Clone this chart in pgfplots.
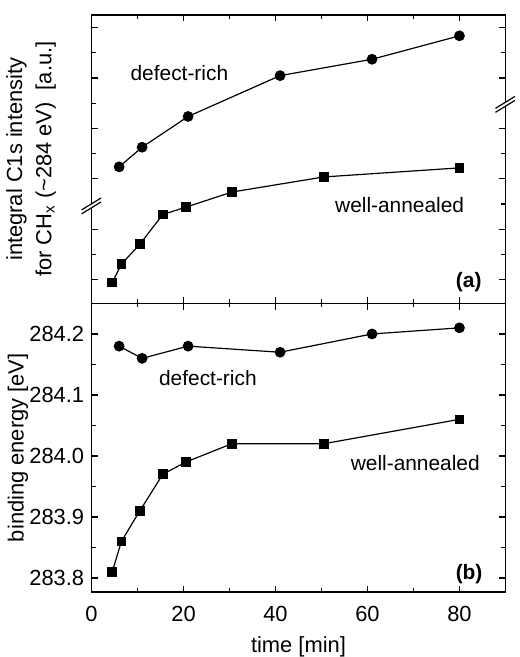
\documentclass[border=0pt]{standalone}
\usepackage{fontspec}
\setmainfont{Liberation Sans}
\usepackage{pgfplots}
\usepackage{pgfplotstable}
\pgfplotsset{compat=1.18}

% top panel (a): arbitrary intensity units
\pgfplotstableread{
t    I
6    5.47
11   6.25
21   7.47
41   9.09
61   9.74
80   10.67
}\Adefect
\pgfplotstableread{
t    I
4.5  0.88
6.5  1.61
10.5 2.40
15.5 3.58
20.5 3.87
30.5 4.47
50.5 5.07
80   5.43
}\Awell
% bottom panel (b): binding energy
\pgfplotstableread{
t    E
6    284.18
11   284.16
21   284.18
41   284.17
61   284.20
80   284.21
}\Bdefect
\pgfplotstableread{
t    E
4.5  283.81
6.5  283.86
10.5 283.91
15.5 283.97
20.5 283.99
30.5 284.02
50.5 284.02
80   284.06
}\Bwell

\begin{document}
\fontsize{10.5}{12.6}\selectfont
\begin{tikzpicture}
\pgfplotsset{
 common/.style={
  scale only axis, width=208pt, height=145pt,
  xmin=0, xmax=90,
  tick align=inside,
  axis line style={line width=0.75pt, -},
  every tick/.style={black, line width=0.6pt},
  major tick length=3.2pt, minor tick length=2pt,
  clip=false,
  /pgf/number format/assume math mode=true,
  tick label style={font=\fontsize{11}{12}\selectfont},
  label style={font=\fontsize{11}{13.2}\selectfont, inner sep=0pt},
  xtick={0,20,40,60,80}, minor xtick={10,30,50,70},
 },
 circ/.style={black, line width=0.6pt, mark=*, mark size=2.4pt, mark options={solid, fill=black}},
 sq/.style={black, line width=0.6pt, mark=square*, mark size=2.1pt, mark options={solid, fill=black}},
}
% bottom panel
\begin{axis}[common, at={(0,0)}, anchor=south west,
 ymin=283.777, ymax=284.25,
 ytick={283.8,283.9,284.0,284.1,284.2},
 minor ytick={283.85,283.95,284.05,284.15},
 yticklabel style={/pgf/number format/.cd, fixed, fixed zerofill, precision=1},
 xticklabel shift=3.5pt,
 scaled y ticks=false,
 xlabel={time [min]}, ylabel={binding energy [eV]},
 ylabel style={at={(axis description cs:-0.178,0.5)}, anchor=center},
 xlabel style={at={(axis description cs:0.5,-0.19)}, anchor=center},
]
\addplot[circ] table[x=t, y=E] {\Bdefect};
\addplot[sq] table[x=t, y=E] {\Bwell};
\node at (axis cs:25.3,284.128) {defect-rich};
\node at (axis cs:70.4,283.989) {well-annealed};
\node[anchor=east, font=\fontsize{10.5}{12}\selectfont\bfseries] at (axis cs:86.6,283.807) {(b)};
\end{axis}
% top panel
\begin{axis}[common, at={(0,145pt)}, anchor=south west,
 ymin=0.05, ymax=11.5,
 xticklabels={},
 ytick={1,3,5,7,9,11}, minor ytick={2,6,8,10}, yticklabels={},
 ytick pos=left,
 ylabel={integral C1s intensity\\[1.5pt]for CH\textsubscript{x} (\textasciitilde284 eV)\ \ [a.u.]},
 ylabel style={align=center, at={(axis description cs:-0.146,0.5)}, anchor=center},
]
\addplot[circ] table[x=t, y=I] {\Adefect};
\addplot[sq] table[x=t, y=I] {\Awell};
\node at (axis cs:19.1,9.2) {defect-rich};
\node at (axis cs:67.0,3.95) {well-annealed};
\node[anchor=east, font=\fontsize{10.5}{12}\selectfont\bfseries] at (axis cs:86.4,0.91) {(a)};
\coordinate (BL) at (axis cs:0,3.92);
\coordinate (BR) at (axis cs:90,7.95);
\end{axis}
% right-side ticks of top panel
\begin{axis}[common, at={(0,145pt)}, anchor=south west,
 ymin=0.05, ymax=11.5,
 axis line style={draw=none},
 xtick=\empty, minor xtick={},
 ytick={1,3,5,7,9,11}, minor ytick={2,4,6,10}, yticklabels={},
 ytick pos=right,
]
\end{axis}
% axis break marks
\foreach \c in {BL,BR}{
 \fill[white] ([shift={(-5pt,-4pt)}]\c) -- ([shift={(4.8pt,2pt)}]\c) -- ([shift={(4.8pt,4pt)}]\c) -- ([shift={(-5pt,-2pt)}]\c) -- cycle;
 \draw[line width=0.6pt] ([shift={(-5pt,-4pt)}]\c) -- ([shift={(4.8pt,2pt)}]\c);
 \draw[line width=0.6pt] ([shift={(-5pt,-2pt)}]\c) -- ([shift={(4.8pt,4pt)}]\c);
}
\path (-46pt,-31pt) rectangle (213pt,297.5pt);
\end{tikzpicture}
\end{document}
